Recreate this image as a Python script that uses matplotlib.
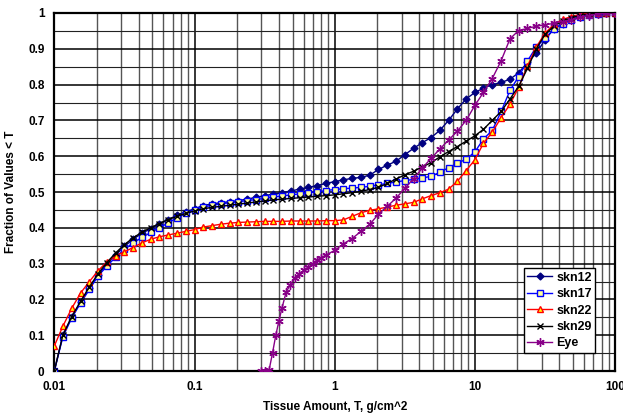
import matplotlib
matplotlib.use("Agg")
import matplotlib.pyplot as plt
from matplotlib.ticker import FixedLocator, LogLocator, NullFormatter

plt.rcParams["font.family"] = ["Liberation Sans", "DejaVu Sans"]
plt.rcParams["font.weight"] = "bold"

# tissue amount T (g/cm^2) shared by the skin curves
T = [
    0.0100, 0.0115, 0.0133, 0.0154, 0.0178, 0.0205, 0.0237, 0.0274,
    0.0316, 0.0365, 0.0422, 0.0487, 0.0562, 0.0649, 0.0750, 0.0866,
    0.100, 0.115, 0.133, 0.154, 0.178, 0.205, 0.237, 0.274,
    0.316, 0.365, 0.422, 0.487, 0.562, 0.649, 0.750, 0.866,
    1.00, 1.15, 1.33, 1.54, 1.78, 2.05, 2.37, 2.74,
    3.16, 3.65, 4.22, 4.87, 5.62, 6.49, 7.50, 8.66,
    10.0, 11.5, 13.3, 15.4, 17.8, 20.5, 23.7, 27.4,
    31.6, 36.5, 42.2, 48.7, 56.2, 64.9, 75.0, 86.6, 100.0,
]

skn12 = [
    0.000, 0.100, 0.150, 0.192, 0.232, 0.268, 0.298, 0.325,
    0.348, 0.368, 0.385, 0.397, 0.410, 0.423, 0.435, 0.445,
    0.453, 0.462, 0.467, 0.470, 0.473, 0.476, 0.480, 0.485,
    0.490, 0.494, 0.498, 0.503, 0.508, 0.513, 0.518, 0.524,
    0.529, 0.534, 0.538, 0.541, 0.547, 0.563, 0.575, 0.586,
    0.604, 0.622, 0.638, 0.652, 0.672, 0.700, 0.732, 0.760,
    0.778, 0.790, 0.800, 0.806, 0.815, 0.833, 0.862, 0.887,
    0.925, 0.955, 0.970, 0.982, 0.990, 0.995, 0.998, 1.000, 1.000,
]

skn17 = [
    0.000, 0.095, 0.148, 0.190, 0.228, 0.265, 0.293, 0.318,
    0.340, 0.358, 0.373, 0.387, 0.400, 0.414, 0.428, 0.440,
    0.450, 0.458, 0.463, 0.467, 0.470, 0.473, 0.476, 0.479,
    0.482, 0.486, 0.489, 0.492, 0.495, 0.498, 0.501, 0.504,
    0.507, 0.509, 0.511, 0.513, 0.516, 0.520, 0.524, 0.528,
    0.532, 0.535, 0.539, 0.544, 0.555, 0.568, 0.580, 0.592,
    0.612, 0.648, 0.672, 0.725, 0.784, 0.822, 0.866, 0.905,
    0.929, 0.955, 0.970, 0.980, 0.988, 0.995, 0.998, 1.000, 1.000,
]

skn22 = [
    0.070, 0.125, 0.175, 0.218, 0.250, 0.280, 0.305, 0.322,
    0.333, 0.345, 0.358, 0.368, 0.375, 0.380, 0.385, 0.390,
    0.395, 0.402, 0.406, 0.410, 0.413, 0.415, 0.416, 0.417,
    0.418, 0.418, 0.418, 0.419, 0.419, 0.419, 0.419, 0.420,
    0.420, 0.422, 0.432, 0.442, 0.449, 0.453, 0.458, 0.463,
    0.467, 0.471, 0.481, 0.490, 0.498, 0.508, 0.530, 0.560,
    0.590, 0.636, 0.667, 0.708, 0.745, 0.792, 0.852, 0.905,
    0.943, 0.968, 0.982, 0.990, 0.996, 0.998, 1.000, 1.000, 1.000,
]

skn29 = [
    0.000, 0.100, 0.152, 0.195, 0.235, 0.272, 0.303, 0.330,
    0.353, 0.372, 0.388, 0.400, 0.412, 0.423, 0.432, 0.440,
    0.447, 0.453, 0.457, 0.460, 0.463, 0.466, 0.469, 0.472,
    0.475, 0.478, 0.480, 0.482, 0.484, 0.486, 0.488, 0.490,
    0.492, 0.495, 0.498, 0.502, 0.507, 0.513, 0.524, 0.536,
    0.548, 0.558, 0.570, 0.582, 0.598, 0.613, 0.627, 0.642,
    0.657, 0.675, 0.700, 0.725, 0.760, 0.795, 0.845, 0.900,
    0.940, 0.963, 0.977, 0.987, 0.993, 0.997, 1.000, 1.000, 1.000,
]

# eye curve starts higher up in T
T_eye = [
    0.30, 0.32, 0.34, 0.36, 0.38, 0.40, 0.42, 0.45, 0.48,
    0.52, 0.56, 0.60, 0.65, 0.70, 0.75, 0.80, 0.866,
    1.00, 1.15, 1.33, 1.54, 1.78, 2.05, 2.37, 2.74,
    3.16, 3.65, 4.22, 4.87, 5.62, 6.49, 7.50, 8.66,
    10.0, 11.5, 13.3, 15.4, 17.8, 20.5, 23.7, 27.4,
    31.6, 36.5, 42.2, 48.7, 56.2, 64.9, 75.0, 86.6, 100.0,
]
eye = [
    0.000, 0.000, 0.002, 0.050, 0.100, 0.140, 0.175, 0.220, 0.240,
    0.260, 0.272, 0.281, 0.290, 0.300, 0.310, 0.317, 0.324,
    0.337, 0.355, 0.370, 0.390, 0.410, 0.438, 0.460, 0.483,
    0.510, 0.537, 0.567, 0.594, 0.620, 0.645, 0.670, 0.700,
    0.742, 0.778, 0.817, 0.867, 0.928, 0.951, 0.957, 0.963,
    0.967, 0.971, 0.976, 0.981, 0.988, 0.993, 0.997, 1.000, 1.000,
]

fig = plt.figure(figsize=(6.23, 4.18), dpi=100)
ax = fig.add_axes([0.0872, 0.1124, 0.9001, 0.8565])

ax.plot(T, skn12, color="#000080", lw=1.0, marker="D", ms=3.5,
        mfc="#000080", mec="#000080", label="skn12", zorder=3)
ax.plot(T, skn17, color="#0000FF", lw=1.0, marker="s", ms=5,
        mfc="#FFFF99", mec="#0000FF", mew=1.0, label="skn17", zorder=3)
ax.plot(T, skn22, color="#FF0000", lw=1.0, marker="^", ms=5,
        mfc="#FFFF00", mec="#FF0000", mew=1.0, label="skn22", zorder=4)
ax.plot(T, skn29, color="black", lw=1.0, marker="x", ms=4.5,
        mec="black", mew=1.0, label="skn29", zorder=5)
ax.plot(T_eye, eye, color="#880088", lw=1.0, marker=(6, 2, 0), ms=6,
        mec="#880088", mew=1.0, label="Eye", zorder=6)

ax.set_xscale("log")
ax.set_xlim(0.01, 100)
ax.set_ylim(0, 1)

ax.xaxis.set_major_locator(FixedLocator([0.01, 0.1, 1, 10, 100]))
ax.set_xticklabels(["0.01", "0.1", "1", "10", "100"])
ax.xaxis.set_minor_locator(LogLocator(base=10, subs=range(2, 10)))
ax.xaxis.set_minor_formatter(NullFormatter())
ax.set_yticks([i / 10 for i in range(11)])
ax.set_yticklabels(["0", "0.1", "0.2", "0.3", "0.4", "0.5",
                    "0.6", "0.7", "0.8", "0.9", "1"])
ax.set_yticks([i / 20 for i in range(1, 20, 2)], minor=True)

ax.grid(True, which="major", color="black", lw=1.1, zorder=1)
ax.grid(True, which="minor", axis="x", color="#555555", lw=1.0, zorder=1)
ax.grid(True, which="minor", axis="y", color="#222222", lw=0.8, zorder=1)

ax.tick_params(which="both", length=0)
ax.tick_params(axis="both", labelsize=8.5, pad=7)
for lab in ax.get_xticklabels() + ax.get_yticklabels():
    lab.set_fontweight("bold")
for sp in ax.spines.values():
    sp.set_linewidth(1.6)
    sp.set_color("black")

ax.set_xlabel("Tissue Amount, T, g/cm^2", fontsize=8.5, fontweight="bold", labelpad=6)
ax.set_ylabel("Fraction of Values < T", fontsize=8.5, fontweight="bold", labelpad=8)

leg = ax.legend(loc="lower right", bbox_to_anchor=(0.965, 0.05), fontsize=9,
                frameon=True, fancybox=False, framealpha=1, edgecolor="black",
                borderpad=0.3, labelspacing=0.35, handlelength=2.0,
                handletextpad=0.3, borderaxespad=0)
leg.get_frame().set_linewidth(1.0)
for t in leg.get_texts():
    t.set_fontweight("bold")

fig.savefig("out.png", dpi=100)
